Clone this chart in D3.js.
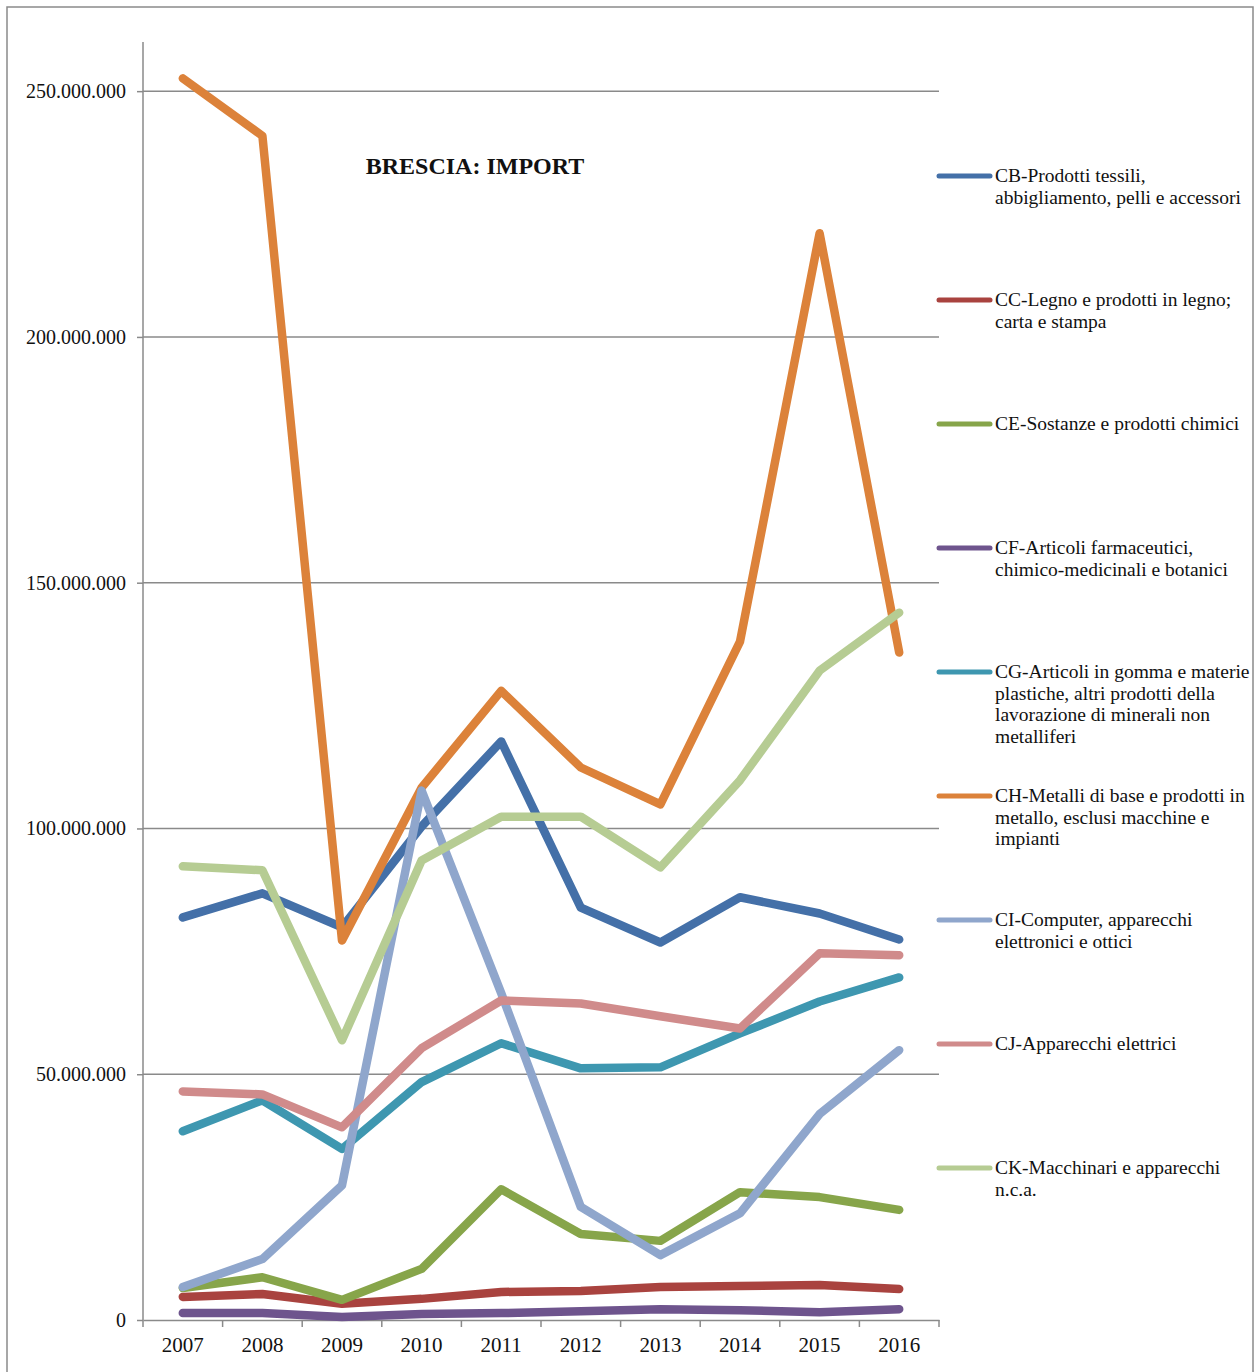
<!DOCTYPE html>
<html>
<head>
<meta charset="utf-8">
<script src="https://cdn.jsdelivr.net/npm/d3@7"></script>
<style>
  body { margin: 0; background: #fff; }
  text { font-family: "Liberation Serif", "DejaVu Serif", serif; fill: #111; }
</style>
</head>
<body>
<div id="chart"></div>
<script>
var years = ["2007", "2008", "2009", "2010", "2011", "2012", "2013", "2014", "2015", "2016"];
var yTicks = [0, 50000000, 100000000, 150000000, 200000000, 250000000];
var title = "BRESCIA: IMPORT";

// values in millions of euro
var CB = [81.9, 86.8, 79.9, 100.4, 117.7, 83.9, 76.8, 86.0, 82.7, 77.4];
var CC = [4.7, 5.3, 3.3, 4.3, 5.7, 5.9, 6.7, 6.9, 7.1, 6.3];
var CE = [6.5, 8.7, 4.1, 10.4, 26.6, 17.5, 16.1, 26.0, 25.0, 22.4];
var CF = [1.4, 1.4, 0.6, 1.2, 1.4, 1.8, 2.2, 2.0, 1.6, 2.2];
var CG = [38.4, 44.7, 34.8, 48.4, 56.3, 51.2, 51.4, 58.3, 64.8, 69.7];
var CH = [252.6, 240.9, 77.2, 108.3, 128.0, 112.4, 104.9, 138.0, 221.1, 135.8];
var CI = [6.7, 12.4, 27.4, 107.7, 66.5, 23.0, 13.2, 21.7, 41.9, 54.9];
var CJ = [46.5, 45.9, 39.2, 55.3, 65.0, 64.4, 61.8, 59.3, 74.6, 74.2];
var CK = [92.3, 91.5, 56.9, 93.5, 102.4, 102.4, 92.1, 109.8, 132.1, 143.9];

var seriesNames = [
  ["CB-Prodotti tessili,", "abbigliamento, pelli e accessori"],
  ["CC-Legno e prodotti in legno;", "carta e stampa"],
  ["CE-Sostanze e prodotti chimici"],
  ["CF-Articoli farmaceutici,", "chimico-medicinali e botanici"],
  ["CG-Articoli in gomma e materie", "plastiche, altri prodotti della", "lavorazione di minerali non", "metalliferi"],
  ["CH-Metalli di base e prodotti in", "metallo, esclusi macchine e", "impianti"],
  ["CI-Computer, apparecchi", "elettronici e ottici"],
  ["CJ-Apparecchi elettrici"],
  ["CK-Macchinari e apparecchi", "n.c.a."]
];
var seriesColors = ["#4470a8", "#a9433f", "#87a54a", "#6e548d", "#3e97b0", "#dc823a", "#8fa6cc", "#d08b8b", "#b6cc93"];
var seriesValues = [CB, CC, CE, CF, CG, CH, CI, CJ, CK];

var W = 1254, H = 1372;
var margin = {top: 42, left: 143, right: 315, bottom: 52},
    width  = W - margin.left - margin.right,
    height = H - margin.top - margin.bottom;

var svg = d3.select("#chart").append("svg")
    .attr("width", W)
    .attr("height", H);

// outer frame
svg.append("rect")
  .attr("x", 7).attr("y", 7)
  .attr("width", W - 8).attr("height", H)
  .attr("fill", "none")
  .attr("stroke", "#8a8a8a")
  .attr("stroke-width", 1.5);

var g = svg.append("g").attr("transform", "translate(" + margin.left + "," + margin.top + ")");

var x = d3.scaleBand().domain(years).range([0, width]);
var y = d3.scaleLinear().domain([0, 260000000]).range([height, 0]);

// gridlines
g.selectAll(".horizontalGrid").data(yTicks.slice(1)).enter()
  .append("line")
  .attr("class", "horizontalGrid")
  .attr("x1", 0)
  .attr("x2", width)
  .attr("y1", function(d) { return y(d); })
  .attr("y2", function(d) { return y(d); })
  .attr("stroke", "#8a8a8a")
  .attr("stroke-width", 1.5);

var fmt = function(d) { return d3.format(",")(d).replace(/,/g, "."); };

var yAxis = g.append("g")
  .attr("class", "axis axis--y")
  .call(d3.axisLeft(y).tickValues(yTicks).tickSize(6).tickSizeOuter(0).tickPadding(11).tickFormat(fmt));
yAxis.select(".domain").attr("stroke", "#8a8a8a").attr("stroke-width", 1.5)
  .attr("d", "M0," + y(0) + "V0");
yAxis.selectAll(".tick line").attr("stroke", "#8a8a8a").attr("stroke-width", 1.5);
yAxis.selectAll("text").attr("font-size", 20).attr("font-family", "Liberation Serif").attr("fill", "#111");

var xAxis = g.append("g")
  .attr("class", "axis axis--x")
  .attr("transform", "translate(0," + height + ")")
  .call(d3.axisBottom(x).tickSize(0).tickPadding(17));
xAxis.select(".domain").attr("stroke", "#8a8a8a").attr("stroke-width", 1.5);
xAxis.selectAll("text").attr("font-size", 21).attr("font-family", "Liberation Serif").attr("fill", "#111");

// tick marks between categories
var bounds = years.map(function(d) { return x(d); }).concat([width]);
xAxis.selectAll(".sep").data(bounds).enter()
  .append("line")
  .attr("class", "sep")
  .attr("x1", function(d) { return d; })
  .attr("x2", function(d) { return d; })
  .attr("y1", 0)
  .attr("y2", 7)
  .attr("stroke", "#8a8a8a")
  .attr("stroke-width", 1.5);

var line = d3.line()
  .x(function(d, i) { return x(years[i]) + x.bandwidth() / 2; })
  .y(function(d) { return y(d * 1000000); });

g.selectAll(".series").data(seriesValues).enter()
  .append("path")
  .attr("class", "series")
  .attr("fill", "none")
  .attr("stroke", function(d, i) { return seriesColors[i]; })
  .attr("stroke-width", 8.5)
  .attr("stroke-linejoin", "round")
  .attr("stroke-linecap", "round")
  .attr("d", line);

// title
svg.append("text")
  .attr("x", 475)
  .attr("y", 174)
  .attr("text-anchor", "middle")
  .attr("font-size", 24)
  .attr("font-weight", "bold")
  .text(title);

// legend
var legend = svg.append("g").attr("transform", "translate(937,176)");
var item = legend.selectAll(".item").data(seriesNames).enter()
  .append("g")
  .attr("class", "item")
  .attr("transform", function(d, i) { return "translate(0," + (i * 124) + ")"; });

item.append("line")
  .attr("x1", 2).attr("x2", 53)
  .attr("y1", 0).attr("y2", 0)
  .attr("stroke", function(d, i) { return seriesColors[i]; })
  .attr("stroke-width", 5)
  .attr("stroke-linecap", "round");

item.append("text")
  .attr("x", 58)
  .attr("y", 6)
  .attr("font-size", 19.5)
  .selectAll("tspan").data(function(d) { return d; }).enter()
  .append("tspan")
  .attr("x", 58)
  .attr("dy", function(d, i) { return i === 0 ? 0 : 21.5; })
  .text(function(d) { return d; });
</script>
</body>
</html>
